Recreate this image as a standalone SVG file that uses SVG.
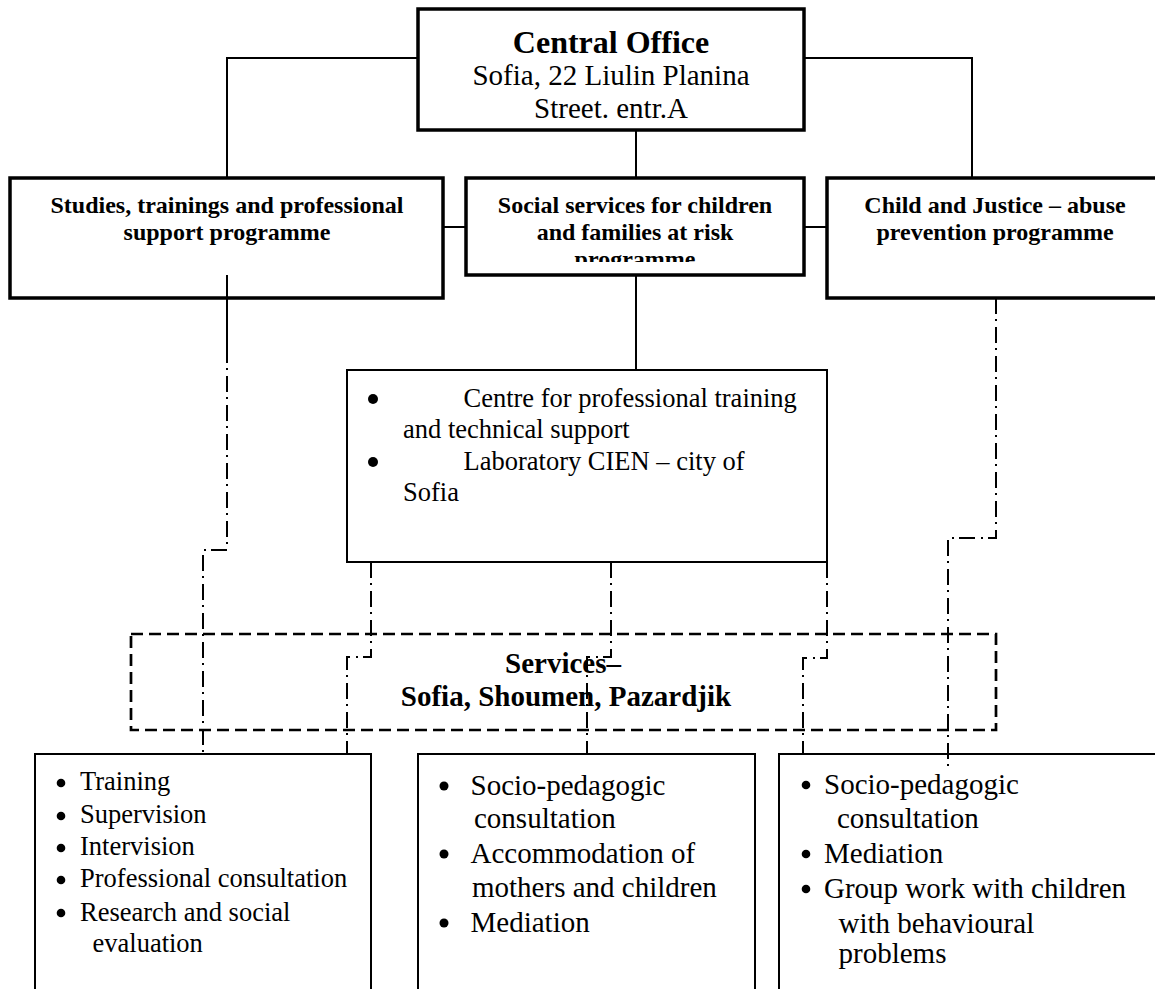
<svg xmlns="http://www.w3.org/2000/svg" width="1155" height="989" viewBox="0 0 1155 989">
<style>
text { font-family: "Liberation Serif", "Times New Roman", serif; fill:#000; }
.b { font-weight: bold; }
.m { text-anchor: middle; }
.thick { fill:none; stroke:#000; stroke-width:3.5; }
.thin { fill:none; stroke:#000; stroke-width:2; }
.dash { fill:none; stroke:#000; stroke-width:2.7; stroke-dasharray:12 6; }
.solid { fill:none; stroke:#000; stroke-width:2; }
.dd { fill:none; stroke:#000; stroke-width:2; stroke-dasharray:16 5 2 6; }
.bul { fill:#000; }
</style>
<defs>
<clipPath id="clipMid"><rect x="465" y="178" width="338" height="84"/></clipPath>
</defs>
<rect width="1155" height="989" fill="#fff"/>

<g id="central-office">
<rect class="thick" x="418" y="9" width="386" height="121"/>
<text class="b m" x="611" y="53" font-size="32">Central Office</text>
<text class="m" x="611" y="85" font-size="29">Sofia, 22 Liulin Planina</text>
<text class="m" x="611" y="118" font-size="29">Street. entr.A</text>
</g>

<g id="studies-programme">
<rect class="thick" x="10" y="178" width="433" height="120"/>
<text class="b m" x="227" y="213" font-size="24">Studies, trainings and professional</text>
<text class="b m" x="227" y="240" font-size="24">support programme</text>
</g>

<g id="social-services-programme">
<rect class="thick" x="466" y="178" width="338" height="97"/>
<g clip-path="url(#clipMid)">
<text class="b m" x="635" y="213" font-size="24">Social services for children</text>
<text class="b m" x="635" y="240" font-size="24">and families at risk</text>
<text class="b m" x="635" y="267" font-size="24">programme</text>
</g>
</g>

<g id="child-justice-programme">
<rect class="thick" x="827" y="178" width="340" height="120"/>
<text class="b m" x="995" y="213" font-size="24">Child and Justice – abuse</text>
<text class="b m" x="995" y="240" font-size="24">prevention programme</text>
</g>

<g id="centre-box">
<rect class="thin" x="347" y="370" width="480" height="192"/>
<circle class="bul" cx="373" cy="399" r="5"/>
<text x="463.5" y="407" font-size="26.5">Centre for professional training</text>
<text x="403" y="438" font-size="26.5">and technical support</text>
<circle class="bul" cx="373" cy="462" r="5"/>
<text x="463.5" y="470" font-size="26.5">Laboratory CIEN – city of</text>
<text x="403" y="501" font-size="26.5">Sofia</text>
</g>

<g id="services">
<rect class="dash" x="131" y="634" width="865" height="96"/>
<text class="b m" x="563" y="673" font-size="29">Services–</text>
<text class="b m" x="566" y="706" font-size="29">Sofia, Shoumen, Pazardjik</text>
</g>

<g id="services-left">
<path class="thin" d="M35,995 V754 H371 V995"/>
<circle class="bul" cx="61" cy="783" r="4.3"/>
<text x="80" y="790" font-size="26.5">Training</text>
<circle class="bul" cx="61" cy="816" r="4.3"/>
<text x="80" y="823" font-size="26.5">Supervision</text>
<circle class="bul" cx="61" cy="848" r="4.3"/>
<text x="80" y="855" font-size="26.5">Intervision</text>
<circle class="bul" cx="61" cy="880" r="4.3"/>
<text x="80" y="887" font-size="26.5">Professional consultation</text>
<circle class="bul" cx="61" cy="913" r="4.3"/>
<text x="80" y="921" font-size="26.5">Research and social</text>
<text x="92.5" y="952" font-size="26.5">evaluation</text>
</g>

<g id="services-middle">
<path class="thin" d="M418,995 V754 H755 V995"/>
<circle class="bul" cx="444" cy="786" r="4.5"/>
<text x="470.5" y="795" font-size="29">Socio-pedagogic</text>
<text x="474" y="828" font-size="29">consultation</text>
<circle class="bul" cx="444" cy="854" r="4.5"/>
<text x="470.5" y="863" font-size="29">Accommodation of</text>
<text x="472" y="897" font-size="29">mothers and children</text>
<circle class="bul" cx="444" cy="923" r="4.5"/>
<text x="470.5" y="932" font-size="29">Mediation</text>
</g>

<g id="services-right">
<path class="thin" d="M779,995 V754 H1165"/>
<circle class="bul" cx="806" cy="785" r="4.3"/>
<text x="824" y="794" font-size="29">Socio-pedagogic</text>
<text x="837" y="828" font-size="29">consultation</text>
<circle class="bul" cx="806" cy="854" r="4.3"/>
<text x="824" y="863" font-size="29">Mediation</text>
<circle class="bul" cx="806" cy="889" r="4.3"/>
<text x="824" y="898" font-size="29">Group work with children</text>
<text x="838.5" y="933" font-size="29">with behavioural</text>
<text x="838.5" y="963" font-size="29">problems</text>
</g>

<g id="connectors">
<path class="solid" d="M418,58 H227 V178"/>
<path class="solid" d="M804,58 H972 V178"/>
<path class="solid" d="M636,130 V178"/>
<path class="solid" d="M443,227 H466"/>
<path class="solid" d="M804,227 H827"/>
<path class="solid" d="M636,275 V370"/>
<path class="solid" d="M227,275 V347"/>
<path class="dd" d="M227,347 V550 H203 V754"/>
<path class="dd" d="M996,298 V538 H948 V772"/>
<path class="dd" d="M371,562 V657 H347 V754"/>
<path class="dd" d="M611,562 V657 H587 V754"/>
<path class="dd" d="M827,562 V658 H803 V754"/>
</g>
</svg>
